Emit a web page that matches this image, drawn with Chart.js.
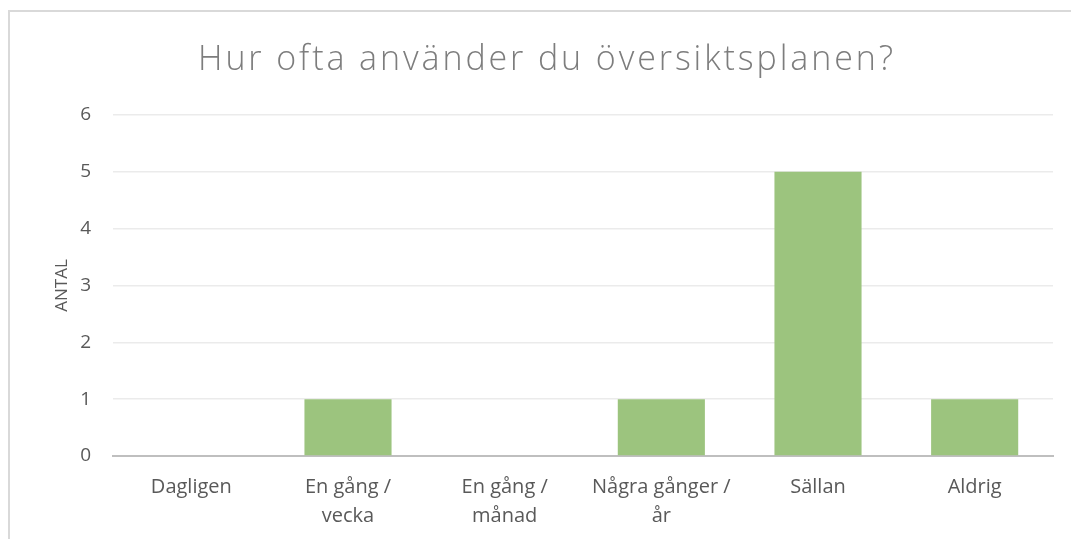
<!DOCTYPE html>
<html><head><meta charset="utf-8">
<script src="https://cdn.jsdelivr.net/npm/chart.js@4"></script>
<style>
html,body{margin:0;padding:0;background:#fff;}
#wrap{position:relative;width:1071px;height:539px;overflow:hidden;}
#frame{position:absolute;left:8px;top:10px;width:1100px;height:600px;border:2px solid #d9d9d9;box-sizing:border-box;}
canvas{position:absolute;left:0;top:0;}
#title{position:absolute;left:0;top:34px;width:1094px;text-align:center;margin:0;
  font-family:'Open Sans','Noto Sans',sans-serif;font-weight:300;font-size:34px;line-height:normal;
  letter-spacing:2.9px;color:#7d7d7d;white-space:nowrap;}
</style></head><body>
<div id="wrap"><div id="frame"></div><canvas id="c" width="1071" height="539"></canvas><div id="title"></div></div>
<script>
const chartTitle = "Hur ofta använder du översiktsplanen?";
const yAxisTitle = "ANTAL";
const categories = ["Dagligen", "En gång / vecka", "En gång / månad", "Några gånger / år", "Sällan", "Aldrig"];
const tickLabels = [["Dagligen"], ["En gång /", "vecka"], ["En gång /", "månad"], ["Några gånger /", "år"], ["Sällan"], ["Aldrig"]];
const counts = [0, 1, 0, 1, 5, 1];
const yMin = 0, yMax = 6, yStep = 1;

document.getElementById('title').textContent = chartTitle;

const font = "'Open Sans', 'Noto Sans', sans-serif";
new Chart(document.getElementById('c'), {
  type: 'bar',
  data: {
    labels: tickLabels,
    datasets: [{ label: 'Antal', data: counts, backgroundColor: '#9cc47e', borderWidth: 0,
      barPercentage: 1, categoryPercentage: 0.556 }]
  },
  options: {
    responsive: false,
    animation: false,
    layout: { padding: { left: 0, right: 18, top: 115, bottom: 0 } },
    plugins: {
      legend: { display: false },
      tooltip: { enabled: false },
      title: { display: false }
    },
    scales: {
      x: {
        grid: { display: false, drawTicks: false },
        border: { display: true, color: '#bfbfbf', width: 2 },
        ticks: { color: '#595959', font: { family: font, size: 20, lineHeight: 1.45 }, padding: 17, maxRotation: 0, autoSkip: false },
        afterFit: s => { s.height = 83; }
      },
      y: {
        min: yMin, max: yMax,
        grid: { color: '#ebebeb', lineWidth: 1.5, drawTicks: false },
        border: { display: false },
        ticks: { stepSize: yStep, color: '#595959', font: { family: font, size: 19 }, padding: 22 },
        title: { display: true, text: yAxisTitle, color: '#595959', font: { family: font, size: 17 }, padding: { top: 52, bottom: 0 } },
        afterFit: s => { s.width = 113; }
      }
    }
  }
});
</script>
</body></html>
